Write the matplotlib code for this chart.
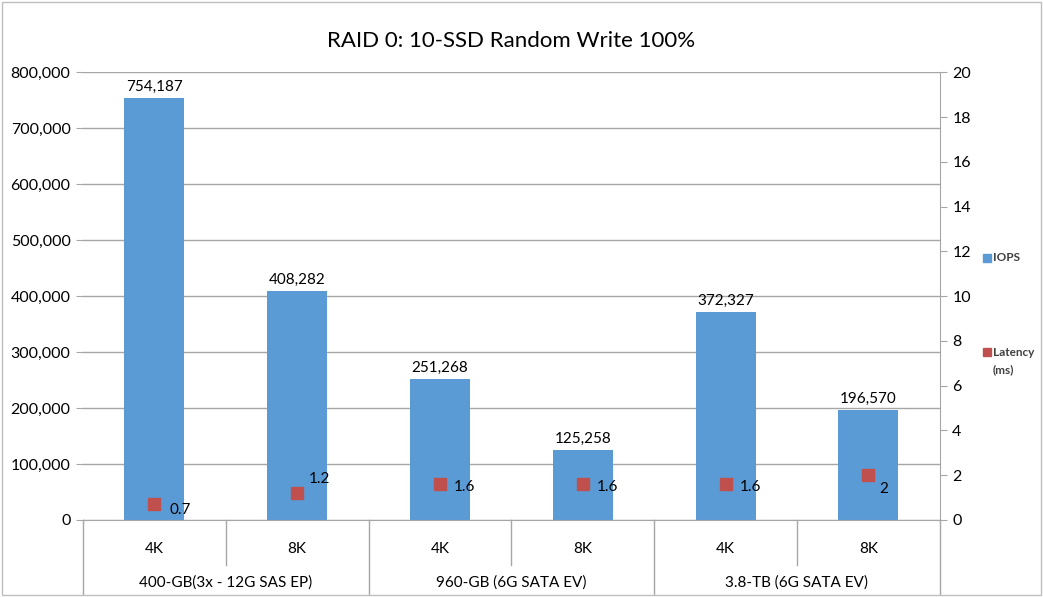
import matplotlib.pyplot as plt
import matplotlib.transforms as mtransforms
from matplotlib.lines import Line2D
import numpy as np

plt.rcParams['font.family'] = ['Lato', 'DejaVu Sans']

# data
block_sizes = ['4K', '8K', '4K', '8K', '4K', '8K']
drives = ['400-GB(3x - 12G SAS EP)', '960-GB (6G SATA EV)', '3.8-TB (6G SATA EV)']
iops = [754187, 408282, 251268, 125258, 372327, 196570]
latency = [0.7, 1.2, 1.6, 1.6, 1.6, 2]
latency_text = ['0.7', '1.2', '1.6', '1.6', '1.6', '2']

# where each latency label sits relative to its marker (points)
lat_offsets = [(11, -4), (8, 10), (10, -2), (10, -2), (10, -2), (8, -10)]

bar_color = '#5B9BD5'
lat_color = '#C0504D'
grid_color = '#A6A6A6'

fig = plt.figure(figsize=(10.43, 5.97), dpi=100)
ax = fig.add_axes([0.0796, 0.129, 0.8214, 0.750])
x = np.arange(len(iops))

ax.bar(x, iops, width=0.42, color=bar_color, zorder=2)
for xi, v in zip(x, iops):
    ax.annotate(f'{v:,}', (xi, v), xytext=(0, 3), textcoords='offset points',
                ha='center', va='bottom', fontsize=11)

ax.set_xlim(-0.5, len(iops) - 0.5)
ax.set_ylim(0, 800000)
ax.set_yticks(np.arange(0, 800001, 100000))
ax.set_yticklabels([f'{t:,}' for t in range(0, 800001, 100000)], fontsize=11.5)
ax.yaxis.grid(True, color=grid_color, linewidth=1, zorder=0)
ax.set_axisbelow(True)
ax.set_xticks([])
for s in ['top', 'right', 'left']:
    ax.spines[s].set_visible(False)
ax.spines['bottom'].set_color(grid_color)
ax.tick_params(axis='y', length=5, color=grid_color, pad=4)

ax2 = ax.twinx()
ax2.set_ylim(0, 20)
ax2.set_yticks(np.arange(0, 21, 2))
ax2.tick_params(axis='y', length=5, color=grid_color, labelsize=11.5, pad=4)
for s in ['top', 'left', 'bottom']:
    ax2.spines[s].set_visible(False)
ax2.spines['right'].set_color(grid_color)
ax2.scatter(x, latency, marker='s', s=70, color=lat_color, zorder=3)
for xi, v, t, off in zip(x, latency, latency_text, lat_offsets):
    ax2.annotate(t, (xi, v), xytext=off, textcoords='offset points',
                 ha='left', va='center', fontsize=11)

ax.set_title('RAID 0: 10-SSD Random Write 100%', fontsize=16, pad=18)

# two-level category axis
trans = mtransforms.blended_transform_factory(ax.transData, ax.transAxes)
row1 = -0.065
row2 = -0.14
for i, lab in enumerate(block_sizes):
    ax.text(i, row1, lab, transform=trans, ha='center', va='center', fontsize=11)
for i in range(len(block_sizes) + 1):
    bx = i - 0.5
    if i % 2 == 0:
        ax.plot([bx, bx], [0, -0.165], transform=trans, color=grid_color,
                linewidth=1, clip_on=False)
    else:
        ax.plot([bx, bx], [0, -0.10], transform=trans, color=grid_color,
                linewidth=1, clip_on=False)
for g, lab in enumerate(drives):
    ax.text(2 * g + 0.5, row2, lab, transform=trans, ha='center', va='center',
            fontsize=11)

# legend
fig.add_artist(Line2D([0.9465], [0.568], marker='s', markersize=5.5, color=bar_color,
                      linestyle='none', transform=fig.transFigure))
fig.text(0.952, 0.568, 'IOPS', fontsize=8.5, va='center', fontweight='bold',
         color='#404040')
fig.add_artist(Line2D([0.9465], [0.41], marker='s', markersize=5.5, color=lat_color,
                      linestyle='none', transform=fig.transFigure))
fig.text(0.952, 0.41, 'Latency', fontsize=8.5, va='center', fontweight='bold',
         color='#404040')
fig.text(0.952, 0.381, '(ms)', fontsize=8.5, va='center', fontweight='bold',
         color='#404040')

# chart border
fig.add_artist(plt.Rectangle((0.002, 0.003), 0.996, 0.994, fill=False,
                             edgecolor='#BFBFBF', linewidth=1,
                             transform=fig.transFigure))

fig.savefig('out.png', dpi=100)
